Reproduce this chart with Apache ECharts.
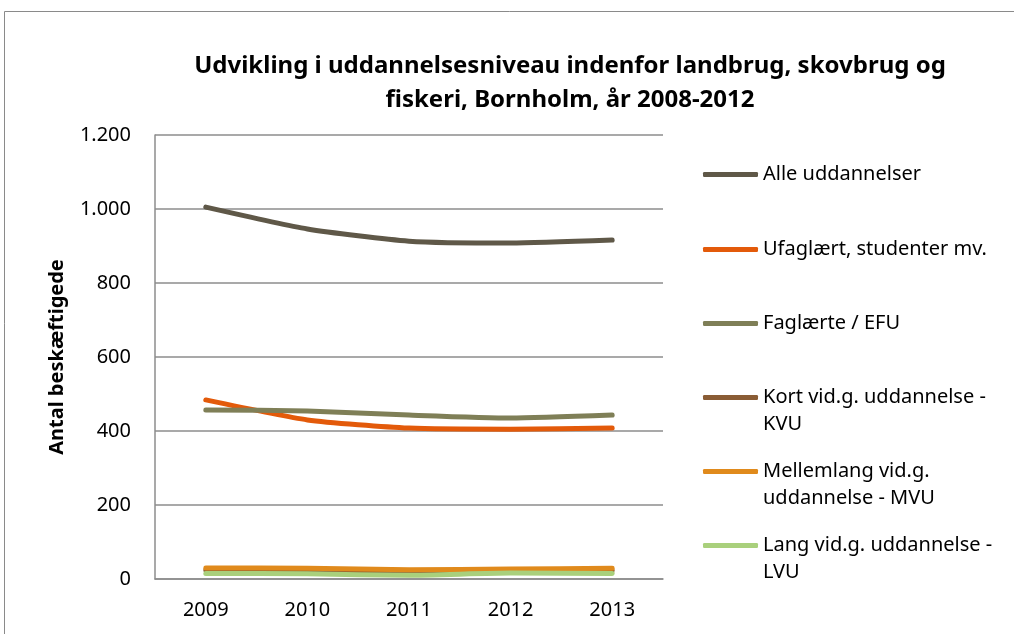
<!DOCTYPE html>
<html>
<head>
<meta charset="utf-8">
<script src="https://cdn.jsdelivr.net/npm/echarts@6/dist/echarts.min.js"></script>
<style>
  html, body { margin: 0; padding: 0; background: #fff; }
  #chart { width: 1014px; height: 634px; }
</style>
</head>
<body>
<div id="chart"></div>
<script>
    // kategorier (x-akse)
    const years = ["2009", "2010", "2011", "2012", "2013"];

    // serier
    const alleUddannelser = [1005, 946, 913, 908, 916];
    const ufaglaert = [484, 430, 408, 405, 408];
    const faglaerte = [457, 454, 443, 435, 443];
    const kortVid = [24, 23, 20, 22, 23];
    const mellemlangVid = [30, 29, 25, 27, 29];
    const langVid = [15, 14, 10, 16, 15];

    const seriesNames = [
        "Alle uddannelser",
        "Ufaglært, studenter mv.",
        "Faglærte / EFU",
        "Kort vid.g. uddannelse -\nKVU",
        "Mellemlang vid.g.\nuddannelse - MVU",
        "Lang vid.g. uddannelse -\nLVU"
    ];
    const seriesData = [alleUddannelser, ufaglaert, faglaerte, kortVid, mellemlangVid, langVid];
    const colors = ["#5f5848", "#e35a0a", "#7f7f57", "#8a5c35", "#e08a1c", "#a9d07c"];

    const chart = echarts.init(document.getElementById("chart"));

    const fontFamily = "'Noto Sans', sans-serif";

    // en legend pr. serie, så de står med fast afstand
    const legendTops = [161, 236, 310, 385, 459, 533];
    const legends = seriesNames.map((name, i) => {
        const twoLines = name.indexOf("\n") >= 0;
        return {
            data: [name],
            left: 703,
            top: legendTops[i] - (twoLines ? 28 : 0),
            padding: 0,
            orient: "vertical",
            icon: "roundRect",
            itemWidth: 55,
            itemHeight: 5,
            itemGap: 0,
            selectedMode: false,
            // tom linje foran, så ikonet flugter med første tekstlinje
            formatter: n => (twoLines ? " \n" + n : n),
            textStyle: {
                fontFamily: fontFamily,
                fontSize: 20,
                color: "#000",
                lineHeight: 27
            }
        };
    });

    const option = {
        color: colors,
        animation: false,
        title: {
            text: "Udvikling i uddannelsesniveau indenfor landbrug, skovbrug og\nfiskeri, Bornholm, år 2008-2012",
            left: 565,
            textAlign: "center",
            top: 44,
            textStyle: {
                fontFamily: fontFamily,
                fontSize: 24,
                fontWeight: "bold",
                color: "#000",
                lineHeight: 34
            }
        },
        graphic: [
            {
                type: "rect",
                shape: { x: 4.5, y: 11.5, width: 1030, height: 650 },
                style: { fill: "none", stroke: "#8a8a8a", lineWidth: 1 }
            }
        ],
        legend: legends,
        grid: {
            left: 155,
            right: 351,
            top: 135,
            bottom: 55
        },
        xAxis: {
            type: "category",
            data: years,
            boundaryGap: true,
            axisLine: { lineStyle: { color: "#8c8c8c", width: 1.5 } },
            axisTick: { show: false },
            axisLabel: {
                fontFamily: fontFamily,
                fontSize: 20,
                color: "#000",
                margin: 21
            }
        },
        yAxis: {
            type: "value",
            min: 0,
            max: 1200,
            interval: 200,
            name: "Antal beskæftigede",
            nameLocation: "middle",
            nameGap: 88,
            nameTextStyle: {
                fontFamily: fontFamily,
                fontSize: 20,
                fontWeight: "bold",
                color: "#000"
            },
            axisLine: { show: true, lineStyle: { color: "#8c8c8c", width: 1.5 } },
            axisTick: { show: false },
            splitLine: { lineStyle: { color: "#8c8c8c", width: 1.5 } },
            axisLabel: {
                fontFamily: fontFamily,
                fontSize: 20,
                color: "#000",
                margin: 24,
                formatter: function (v) {
                    return String(v).replace(/\B(?=(\d{3})+(?!\d))/g, ".");
                }
            }
        },
        series: seriesNames.map((name, i) => ({
            name: name,
            type: "line",
            data: seriesData[i],
            smooth: 0.2,
            symbol: "none",
            lineStyle: { width: 5, cap: "round", join: "round" }
        }))
    };

    chart.setOption(option);
</script>
</body>
</html>
